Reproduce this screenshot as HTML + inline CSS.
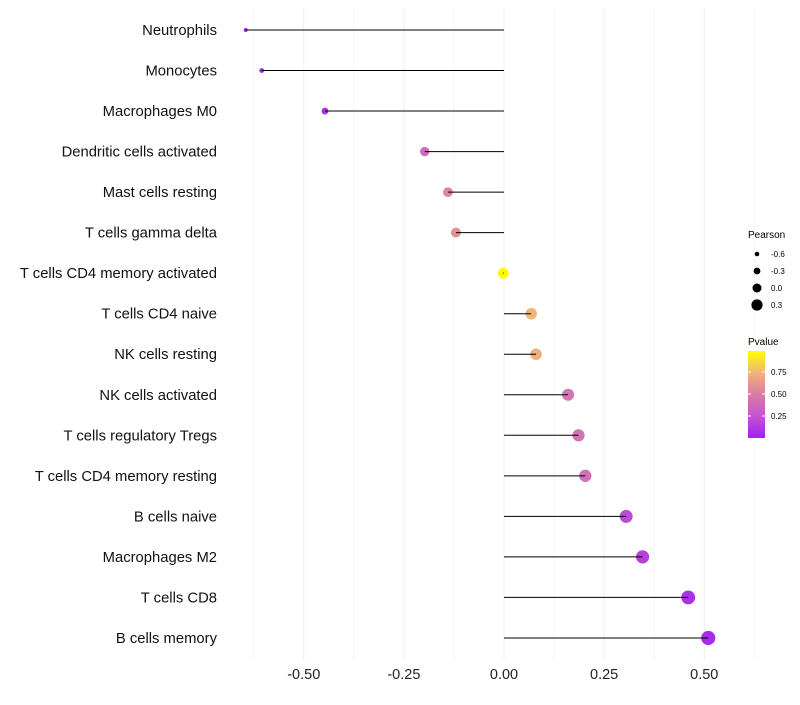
<!DOCTYPE html>
<html><head><meta charset="utf-8"><style>
body{margin:0;background:#fff;font-family:"Liberation Sans",sans-serif;}
</style></head><body>
<svg id="chart" width="800" height="700" xmlns="http://www.w3.org/2000/svg" font-family="Liberation Sans, sans-serif"></svg>
<script>
const categories=["Neutrophils","Monocytes","Macrophages M0","Dendritic cells activated","Mast cells resting","T cells gamma delta","T cells CD4 memory activated","T cells CD4 naive","NK cells resting","NK cells activated","T cells regulatory  Tregs ","T cells CD4 memory resting","B cells naive","Macrophages M2","T cells CD8","B cells memory"];
const pearson=[-0.645,-0.605,-0.447,-0.198,-0.14,-0.12,-0.002,0.068,0.08,0.16,0.186,0.203,0.305,0.346,0.46,0.51];
const pvalue=[0.02,0.03,0.08,0.4,0.55,0.6,0.99,0.75,0.72,0.45,0.43,0.42,0.2,0.15,0.08,0.05];
const xTicks=[-0.5,-0.25,0,0.25,0.5];
const xTickLabels=["-0.50","-0.25","0.00","0.25","0.50"];
const sizeLegend=[-0.6,-0.3,0.0,0.3];
const colorTicks=[0.25,0.5,0.75];

const svg=document.getElementById('chart');
const NS="http://www.w3.org/2000/svg";
function mk(t,a,p){const e=document.createElementNS(NS,t);for(const k in a)e.setAttribute(k,a[k]);(p||svg).appendChild(e);return e;}
const x=v=>504+v*400.5;
const y=i=>30+i*40.53;
const rad=v=>Math.sqrt(Math.max(2,4+(v+0.645)*40));
const stops=[[0,[160,32,240]],[0.25,[195,85,210]],[0.5,[215,125,165]],[0.75,[240,180,120]],[1,[255,255,0]]];
function col(p){for(let i=1;i<stops.length;i++){if(p<=stops[i][0]){const a=stops[i-1],b=stops[i],t=(p-a[0])/(b[0]-a[0]);return 'rgb('+a[1].map((c,j)=>Math.round(c+(b[1][j]-c)*t)).join(',')+')';}}return 'rgb(255,255,0)';}

for(let v=-0.625;v<=0.63;v+=0.125){
  const g=mk('line',{x1:x(v),x2:x(v),y1:8,y2:660,stroke:'#efefef','stroke-width':Math.abs(v*4-Math.round(v*4))<0.01?1:0.6});
  
  
}
xTicks.forEach((v,i)=>{
  const t=mk('text',{x:x(v),y:679,'text-anchor':'middle','font-size':14.5,fill:'#222'});
  t.textContent=xTickLabels[i];
  
  
});
categories.forEach((c,i)=>{
  const t=mk('text',{x:217,y:y(i)+5,'text-anchor':'end','font-size':14.8,fill:'#111'});
  t.textContent=c;
  
  
  const p=mk('circle',{cx:x(pearson[i]),cy:y(i),r:rad(pearson[i]),fill:col(pvalue[i])});
  
  
  const s=mk('line',{x1:x(0),x2:x(pearson[i]),y1:y(i),y2:y(i),stroke:'#000','stroke-width':1});
  
  
});
const lt=mk('text',{x:748,y:238,'font-size':10,fill:'#000'});lt.textContent='Pearson';


sizeLegend.forEach((v,i)=>{
  const cy=254+i*17;
  const c=mk('circle',{cx:757,cy:cy,r:2.3+i*1.1,fill:'#000'});
  
  
  const t=mk('text',{x:771,y:cy+3,'font-size':8,fill:'#000'});t.textContent=v.toFixed(1);
  
  
});
const ct=mk('text',{x:748,y:345,'font-size':10,fill:'#000'});ct.textContent='Pvalue';


const defs=mk('defs',{});
const lg=mk('linearGradient',{id:'pg',x1:0,y1:1,x2:0,y2:0},defs);
stops.forEach(s=>mk('stop',{offset:s[0],'stop-color':'rgb('+s[1].join(',')+')'},lg));
const bar=mk('rect',{x:748,y:351,width:17,height:87,fill:'url(#pg)'});


colorTicks.forEach(v=>{
  const cy=438-v*88;
  mk('line',{x1:748,x2:751,y1:cy,y2:cy,stroke:'#fff'});
  mk('line',{x1:762,x2:765,y1:cy,y2:cy,stroke:'#fff'});
  const t=mk('text',{x:771,y:cy+3,'font-size':8,fill:'#000'});t.textContent=v.toFixed(2);
  
  
});
</script>
</body></html>
